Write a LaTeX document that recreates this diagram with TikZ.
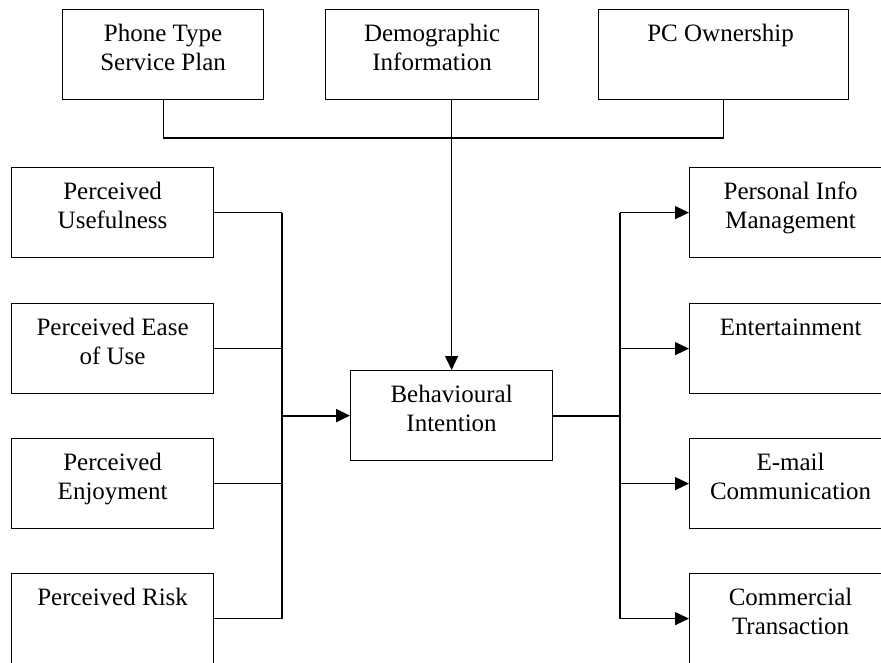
\documentclass[tikz,border=0pt]{standalone}
\usepackage{fontspec}
\setmainfont{Liberation Serif}
\usetikzlibrary{arrows.meta}
\tikzset{
  box/.style={draw, line width=1.2pt, minimum width=202pt, minimum height=90pt, inner sep=0pt, anchor=north west},
  txt/.style={anchor=north, inner sep=0pt, align=center, font=\fontsize{25}{29}\selectfont},
  conn/.style={line width=1.2pt},
  heavy/.style={line width=2pt},
  arr/.style={line width=1.2pt, -{Triangle[length=14pt,width=13pt]}},
  harr/.style={line width=2pt, -{Triangle[length=14pt,width=13pt]}},
}
\begin{document}
\begin{tikzpicture}[x=1pt,y=-1pt]
\useasboundingbox (0,0) rectangle (881,662);
\fill[white] (0,0) rectangle (881,662);
\clip (0,0) rectangle (881,662);
% top boxes
\node[box, minimum width=201pt] (phone) at (62,9) {};
\node[box, minimum width=213pt] (demo) at (325,9) {};
\node[box, minimum width=250pt] (pc) at (598,9) {};
% left boxes
\node[box] (pu) at (11,167) {};
\node[box] (peou) at (11,303) {};
\node[box] (pe) at (11,438) {};
\node[box] (pr) at (11,573) {};
% centre
\node[box] (bi) at (350,370) {};
% right boxes
\node[box] (pim) at (689,167) {};
\node[box] (ent) at (689,303) {};
\node[box] (em) at (689,438) {};
\node[box] (ct) at (689,573) {};
% texts
\node[txt] (phoneT) at ([yshift=-11.7pt]phone.north) {\strut Phone Type\\Service Plan};
\node[txt] (demoT) at ([yshift=-11.7pt]demo.north) {\strut Demographic\\Information};
\node[txt] (pcT) at ([xshift=-3pt,yshift=-11.7pt]pc.north) {\strut PC Ownership};
\node[txt] (puT) at ([yshift=-11.7pt]pu.north) {\strut Perceived\\Usefulness};
\node[txt] (peouT) at ([yshift=-11.7pt]peou.north) {\strut Perceived Ease\\of Use};
\node[txt] (peT) at ([yshift=-11.7pt]pe.north) {\strut Perceived\\Enjoyment};
\node[txt] (prT) at ([yshift=-11.7pt]pr.north) {\strut Perceived Risk};
\node[txt] (biT) at ([yshift=-11.7pt]bi.north) {\strut Behavioural\\Intention};
\node[txt] (pimT) at ([yshift=-11.7pt]pim.north) {\strut Personal Info\\Management};
\node[txt] (entT) at ([yshift=-11.7pt]ent.north) {\strut Entertainment};
\node[txt] (emT) at ([yshift=-11.7pt]em.north) {\strut E-mail\\Communication};
\node[txt] (ctT) at ([yshift=-11.7pt]ct.north) {\strut Commercial\\Transaction};
% bus coordinates
\coordinate (topbus) at (0,138);
\coordinate (lbus) at (282,0);
\coordinate (rbus) at (620,0);
% top connectors
\draw[conn] (phone.south) -- (phone.south |- topbus) -- (pc.south |- topbus) -- (pc.south);
\draw[arr] (bi.north |- demo.south) -- (bi.north);
% left connectors
\foreach \n in {pu,peou,pe,pr} \draw[conn] (\n.east) -- (\n.east -| lbus);
\draw[conn] (pu.east -| lbus) -- (pr.east -| lbus);
\draw[harr] (bi.west -| lbus) -- (bi.west);
% right connectors
\draw[heavy] (bi.east) -- (bi.east -| rbus);
\draw[conn] (pim.west -| rbus) -- (ct.west -| rbus);
\foreach \n in {pim,ent,em,ct} \draw[arr] (\n.west -| rbus) -- (\n.west);
\end{tikzpicture}
\end{document}
